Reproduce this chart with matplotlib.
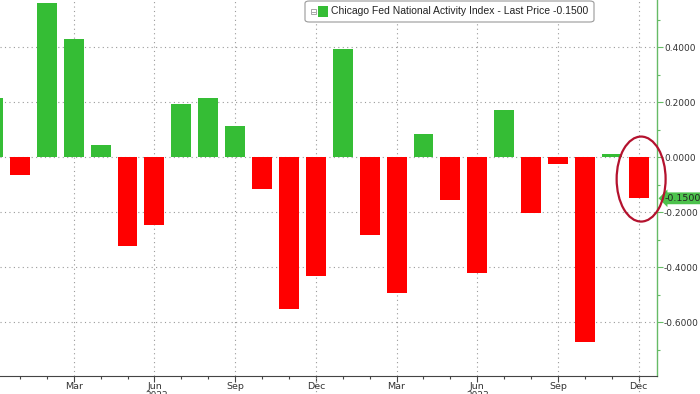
import matplotlib
matplotlib.use("Agg")
import matplotlib.pyplot as plt
import matplotlib.transforms as mtrans
from matplotlib.patches import Ellipse, FancyBboxPatch, Rectangle
import numpy as np

# Monthly CFNAI values, Dec 2021 .. Dec 2023
months = ["Dec", "Jan", "Feb", "Mar", "Apr", "May", "Jun", "Jul", "Aug", "Sep", "Oct", "Nov",
          "Dec", "Jan", "Feb", "Mar", "Apr", "May", "Jun", "Jul", "Aug", "Sep", "Oct", "Nov", "Dec"]
values = [0.215, -0.066, 0.56, 0.43, 0.044, -0.324, -0.246, 0.193, 0.215, 0.113, -0.116, -0.553,
          -0.433, 0.393, -0.284, -0.495, 0.084, -0.156, -0.422, 0.171, -0.204, -0.025, -0.673, 0.011, -0.15]
yticks = [-0.6, -0.4, -0.2, 0.0, 0.2, 0.4]
ytick_labels = ["-0.6000", "-0.4000", "-0.2000", "0.0000", "0.2000", "0.4000"]
quarter_idx = [3, 6, 9, 12, 15, 18, 21, 24]
quarter_labels = ["Mar", "Jun", "Sep", "Dec", "Mar", "Jun", "Sep", "Dec"]
years = ["2022", "2023"]
year_idx = [6.1, 18.0]
last_price = -0.15
legend_label = "Chicago Fed National Activity Index - Last Price -0.1500"

GREEN = "#35bd35"
RED = "#ff0000"
GRID = "#9a9a9a"

fig = plt.figure(figsize=(7.0, 3.94), dpi=100)
ax = fig.add_axes([0.0, 1 - 376 / 394, 657 / 700, 376 / 394])

x = np.arange(len(values))
colors = [GREEN if v >= 0 else RED for v in values]
ax.bar(x, values, width=0.74, color=colors, zorder=3)

# Grid
for yv in yticks:
    ax.axhline(yv, color=GRID, lw=0.8, ls=(0, (1, 3)), zorder=1)
for q in quarter_idx:
    ax.axvline(q, color=GRID, lw=0.8, ls=(0, (1, 3)), zorder=1)

# Spines
for s in ["left", "top"]:
    ax.spines[s].set_visible(False)
ax.spines["right"].set_color("#66bb66")
ax.spines["right"].set_linewidth(1.0)
ax.spines["bottom"].set_color("#444444")
ax.spines["bottom"].set_linewidth(0.8)

# Y axis on right
ax.yaxis.tick_right()
ax.set_yticks(yticks)
ax.set_yticklabels(ytick_labels)
ax.set_yticks(np.arange(-0.7, 0.56, 0.1), minor=True)
ax.tick_params(axis="y", which="major", colors="#66bb66", length=4, width=0.8,
               labelcolor="#333333", labelsize=6.5, pad=1)
ax.tick_params(axis="y", which="minor", colors="#66bb66", length=2, width=0.8)

# X axis
ax.set_xticks(quarter_idx)
ax.set_xticklabels(quarter_labels)
ax.set_xticks(x, minor=True)
ax.tick_params(axis="x", which="major", colors="#444444", length=4, width=0.8,
               labelcolor="#333333", labelsize=6.8, pad=0.5)
ax.tick_params(axis="x", which="minor", colors="#444444", length=2, width=0.8)

ax.set_xlim(0.26, 24.68)
ax.set_ylim(-0.796, 0.571)

# Year separators and year labels (cut off by the figure edge)
for q in [12, 24]:
    ax.axvline(q, ymin=-0.06, ymax=0, color=GRID, lw=0.8, ls=(0, (1, 2)), clip_on=False)
trans_y = mtrans.blended_transform_factory(ax.transData, fig.transFigure)
for yr, xi in zip(years, year_idx):
    ax.text(xi, 1 - 391 / 394, yr, transform=trans_y, ha="center", va="top",
            fontsize=6.5, color="#333333")

# Last price tag
trans_tag = mtrans.blended_transform_factory(ax.transAxes, ax.transData)
ax.text(1.012, last_price, "-0.1500", transform=trans_tag, ha="left", va="center",
        fontsize=6.8, color="#222222", clip_on=False,
        bbox=dict(boxstyle="larrow,pad=0.15", fc="#4cc24c", ec="none"))

# Highlight ellipse
ell = Ellipse((24.09, -0.08), 1.82, 0.309, fill=False, ec="#b4122e", lw=1.6,
              clip_on=False, zorder=5)
ax.add_patch(ell)

# Legend box (figure pixel coordinates)
W, H = 700, 394
def fx(px):
    return px / W
def fy(py):
    return 1 - py / H
box = FancyBboxPatch((fx(305), fy(22)), fx(594) - fx(305), fy(1) - fy(22),
                     boxstyle="round,pad=0,rounding_size=0.006", transform=fig.transFigure,
                     fc="white", ec="#9a9a9a", lw=0.8, zorder=10)
fig.patches.append(box)
icon = Rectangle((fx(311), fy(14)), fx(316) - fx(311), fy(9) - fy(14), transform=fig.transFigure,
                 fc="white", ec="#999999", lw=0.6, zorder=11)
fig.patches.append(icon)
fig.lines.append(plt.Line2D([fx(312), fx(315)], [fy(11.5), fy(11.5)], transform=fig.transFigure,
                            color="#999999", lw=0.6, zorder=12))
sq = Rectangle((fx(318), fy(16.5)), fx(328) - fx(318), fy(6.5) - fy(16.5), transform=fig.transFigure,
               fc=GREEN, ec="none", zorder=11)
fig.patches.append(sq)
fig.text(fx(331), fy(11.5), legend_label, ha="left", va="center", fontsize=7.5,
         family="Liberation Sans", color="#222222", zorder=12)

fig.savefig("out.png", dpi=100)
